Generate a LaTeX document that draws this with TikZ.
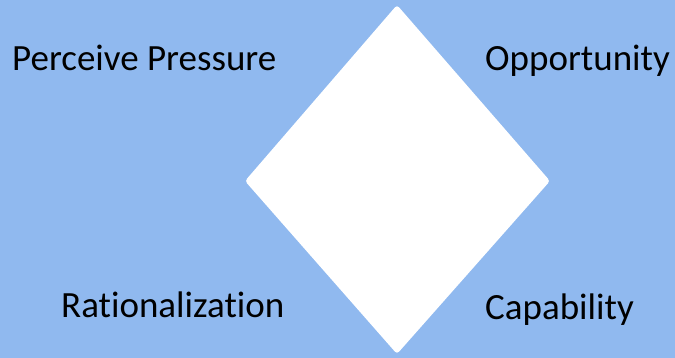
\documentclass[tikz,border=0pt]{standalone}
\usepackage{fontspec}
\setmainfont[Ligatures=NoCommon]{Carlito}
\definecolor{bgblue}{RGB}{144,185,239}
\tikzset{label text/.style={anchor=base west, inner sep=0pt, font=\fontsize{37}{44}\selectfont}}
\begin{document}
\begin{tikzpicture}[x=1pt,y=1pt]
\fill[bgblue] (0,0) rectangle (675,358);
\useasboundingbox (0,0) rectangle (675,358);
\coordinate (top) at (397,353);
\coordinate (left) at (245,177);
\coordinate (right) at (550,177);
\coordinate (bottom) at (397,4);
\fill[white, rounded corners=3pt] (top) -- (right) -- (bottom) -- (left) -- cycle;
\node[label text] (pressure) at (12,287.5) {Perceive Pressure};
\node[label text] (opportunity) at (485,287.5) {Opportunity};
\node[label text] (rational) at (61,40) {Rationalization};
\node[label text] (capability) at (485,38) {Capability};
\end{tikzpicture}
\end{document}
